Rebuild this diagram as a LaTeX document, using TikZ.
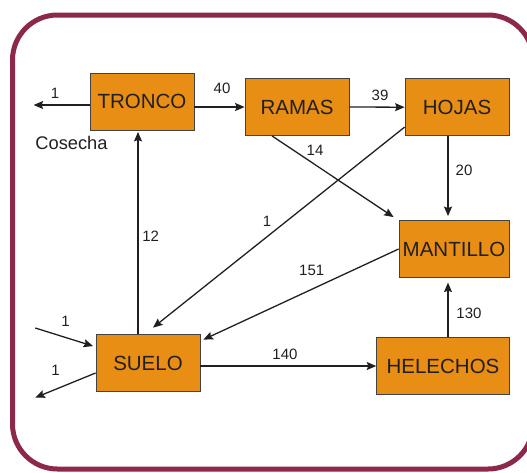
\documentclass[tikz,border=0pt]{standalone}
\usepackage{fontspec}
\setmainfont{Liberation Sans}
\usepackage{tikz}
\usetikzlibrary{arrows.meta}
\definecolor{frameRed}{HTML}{8C284B}
\definecolor{boxOrange}{HTML}{E88E14}
\definecolor{inkGray}{HTML}{231F20}

\begin{document}
\begin{tikzpicture}[x=1pt,y=-1pt,
  >={Stealth[length=9.5pt,width=8pt,inset=1.5pt]},
  pool/.style={draw=inkGray!85,line width=0.8pt,fill=boxOrange,minimum width=104pt,
    minimum height=57pt,inner sep=0pt,text=inkGray,font=\fontsize{20.5}{24}\selectfont},
  flow/.style={->,line width=1.3pt,inkGray},
  qty/.style={text=inkGray,inner sep=0pt,font=\fontsize{15}{18}\selectfont}]
  \useasboundingbox (0,0) rectangle (527,472);
  \clip (0,0) rectangle (527,472);
  \draw[frameRed,line width=5pt,rounded corners=45pt] (12.5,15) rectangle (533,469);

  \node[pool] (tronco) at (142,101.5) {TRONCO};
  \node[pool] (ramas) at (297,107) {RAMAS};
  \node[pool] (hojas) at (457,107.2) {HOJAS};
  \node[pool,minimum width=110pt] (mantillo) at (454,249) {MANTILLO};
  \node[pool] (suelo) at (148,363) {SUELO};
  \node[pool,minimum width=132.7pt] (helechos) at (443,366) {HELECHOS};

  \coordinate (harvest) at (33.6,105);
  \coordinate (inflow) at (35.3,328);
  \coordinate (outflow) at (35.3,397.6);

  \draw[flow] (tronco.west |- harvest) -- (harvest);
  \draw[flow] (tronco.east |- ramas.west) -- (ramas.west);
  \draw[flow] (ramas.east) -- (hojas.west);
  \draw[flow] ([xshift=-25pt]ramas.south) -- ([xshift=-5pt,yshift=3pt]mantillo.north west);
  \draw[flow] ([yshift=9pt]hojas.south west) -- ([xshift=5pt,yshift=6.5pt]suelo.north);
  \draw[flow,shorten >=4pt] ([xshift=-9pt]hojas.south) -- ([xshift=-9pt]hojas.south |- mantillo.north);
  \draw[flow] (mantillo.west) -- ([xshift=3pt,yshift=-5.5pt]suelo.north east);
  \draw[flow,shorten >=1.5pt] ([xshift=-10pt]suelo.north) -- ([xshift=-10pt]suelo.north |- tronco.south);
  \draw[flow] (inflow) -- ([xshift=-2.5pt,yshift=-12pt]suelo.north west);
  \draw[flow] ([yshift=-10pt]suelo.west) -- (outflow);
  \draw[flow] (suelo.east |- helechos.west) -- (helechos.west);
  \draw[flow,shorten >=4.7pt] ([xshift=5pt]helechos.north) -- ([xshift=5pt]helechos.north |- mantillo.south);

  \node[qty] (q-harvest) at (55,93.4) {1};
  \node[text=inkGray,inner sep=0pt,font=\fontsize{18.3}{22}\selectfont] (cosecha) at (71.5,142.9) {Cosecha};
  \node[qty] (q-tr) at (222,88.4) {40};
  \node[qty] (q-rh) at (380,95) {39};
  \node[qty] (q-rm) at (315,150.6) {14};
  \node[qty] (q-hm) at (464,170.7) {20};
  \node[qty] (q-hs) at (267,221.7) {1};
  \node[qty] (q-st) at (150.7,236.7) {12};
  \node[qty] (q-ms) at (311.7,270.7) {151};
  \node[qty] (q-in) at (65.5,321) {1};
  \node[qty] (q-out) at (55.5,370) {1};
  \node[qty] (q-sh) at (285,354.6) {140};
  \node[qty] (q-hem) at (469,313.6) {130};
\end{tikzpicture}
\end{document}
